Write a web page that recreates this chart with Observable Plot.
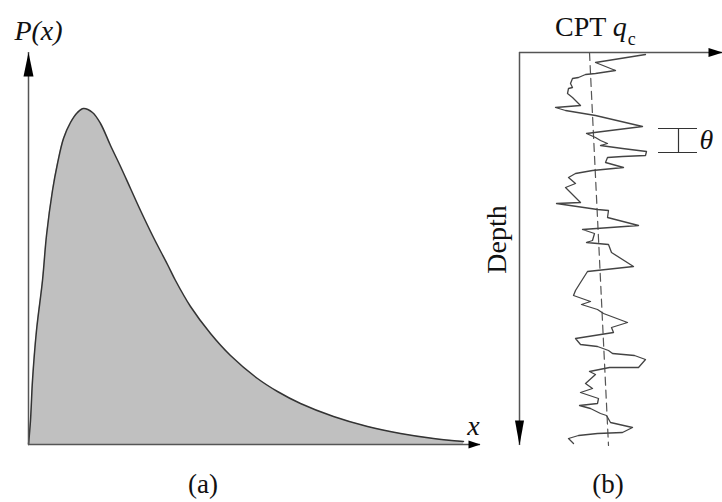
<!DOCTYPE html>
<html><head><meta charset="utf-8">
<script src="https://cdn.jsdelivr.net/npm/d3@7"></script>
<script src="https://cdn.jsdelivr.net/npm/@observablehq/plot@0.6"></script>
<style>
body{margin:0;background:#fff;}
#fig{position:relative;width:722px;height:502px;font-family:"Liberation Serif","Times New Roman",serif;color:#111;overflow:hidden;}
#fig svg{position:absolute;top:0;overflow:visible;background:none;}
.lbl{position:absolute;line-height:1;white-space:nowrap;}
</style></head><body><div id="fig"></div>
<script>
// Panel (a): probability density P(x)
const pdfX = [0, 0.2, 0.4, 0.8, 1.4, 1.8, 2.4, 2.9, 3.5, 4.2, 4.9, 5.5, 6.4, 7.2, 8.2, 9.2, 10.2, 11.2, 12.5, 13.9, 14.7, 16.2, 18.2, 20.2, 22.9, 24.9, 27.2, 30.5, 33.9, 37.2, 40.5, 43.5];
const pdfP = [0, 2.4, 6.4, 11.4, 16.4, 20.9, 25.4, 28.1, 30.6, 32.2, 33.2, 33.6, 33.2, 32.1, 29.9, 27.8, 25.6, 23.4, 20.7, 18.0, 16.4, 13.8, 11.1, 8.9, 6.6, 5.3, 4.1, 2.8, 1.8, 1.1, 0.6, 0.3];

// Panel (b): CPT qc profile with depth
const cptDepth = [0.2, 1.0, 1.8, 2.1, 2.2, 2.5, 2.6, 3.1, 3.5, 3.6, 4.1, 4.5, 5.3, 5.5, 5.8, 6.3, 7.4, 8.1, 8.5, 8.8, 9.1, 9.3, 9.6, 9.9, 10.3, 10.4, 10.5, 11.0, 11.5, 11.8, 12.1, 12.5, 13.1, 13.5, 15.0, 15.1, 15.7, 15.8, 16.5, 17.3, 17.7, 18.1, 18.8, 19.0, 19.2, 20.0, 21.4, 21.9, 23.0, 23.8, 24.3, 24.9, 25.2, 25.7, 26.1, 27.0, 27.5, 28.0, 28.6, 29.2, 29.4, 29.8, 30.1, 30.3, 30.7, 31.5, 31.5, 31.9, 32.2, 33.1, 33.6, 34.0, 34.6, 35.1, 35.3, 35.6, 36.1, 36.3, 37.0, 37.5, 38.0, 38.1, 38.3, 38.6, 39.1];
const cptQc = [12.6, 7.6, 9.6, 7.6, 6.6, 5.9, 5.3, 5.1, 5.3, 4.9, 4.8, 5.3, 6.1, 3.6, 4.6, 7.6, 12.3, 6.7, 7.6, 8.1, 8.8, 8.1, 10.3, 12.7, 12.6, 10.3, 8.8, 8.6, 10.4, 7.3, 5.6, 4.9, 5.6, 4.6, 6.1, 3.7, 7.8, 8.9, 8.8, 11.9, 6.3, 7.5, 7.3, 6.7, 8.9, 9.2, 11.4, 6.8, 6.1, 5.6, 5.4, 7.1, 6.2, 7.8, 8.4, 10.8, 9.2, 9.4, 5.6, 6.1, 7.8, 8.9, 9.3, 11.5, 12.6, 11.9, 9.0, 7.0, 7.6, 6.6, 7.3, 6.1, 7.9, 7.8, 6.0, 7.1, 8.1, 8.7, 9.1, 11.3, 10.3, 7.8, 5.9, 4.9, 5.4];
const trendDepth = [0, 39.3];
const trendQc = [7.0, 8.9];
const thetaBand = [7.6, 10.0];

const pdf = pdfX.map((x, i) => ({x, p: pdfP[i]}));
const cpt = cptDepth.map((d, i) => ({d, q: cptQc[i]}));
const trend = trendDepth.map((d, i) => ({d, q: trendQc[i]}));

const serif = "Liberation Serif, Times New Roman, serif";
const tri = (pts) => ({draw(c){ c.moveTo(pts[0][0], pts[0][1]); c.lineTo(pts[1][0], pts[1][1]); c.lineTo(pts[2][0], pts[2][1]); c.closePath(); }});
const arrowUpA = tri([[0,0],[-5,24],[5,24]]);
const arrowRightA = tri([[0,0],[-12,-4],[-12,4]]);
const arrowRightB = tri([[0,0],[-14,-4.5],[-14,4.5]]);
const arrowDownB = tri([[0,0],[-4.5,-25],[4.5,-25]]);

const axisColor = "#555";

const plotA = Plot.plot({
  width: 490, height: 460,
  marginLeft: 28, marginRight: 10, marginTop: 52, marginBottom: 16,
  x: {domain: [0, 45.2], axis: null},
  y: {domain: [0, 39.2], axis: null},
  marks: [
    Plot.areaY(pdf, {x: "x", y: "p", fill: "#c0c0c0", curve: "catmull-rom"}),
    Plot.line(pdf, {x: "x", y: "p", stroke: "#333", strokeWidth: 1.5, curve: "catmull-rom"}),
    Plot.ruleX([0], {y1: 0, y2: 39.2, stroke: axisColor, strokeWidth: 1.5}),
    Plot.ruleY([0], {x1: 0, x2: 45.2, stroke: axisColor, strokeWidth: 1.5}),
    Plot.dot([{x: 0, p: 39.2}], {x: "x", y: "p", symbol: arrowUpA, fill: "#000", stroke: "none"}),
    Plot.dot([{x: 45.2, p: 0}], {x: "x", y: "p", symbol: arrowRightA, fill: "#000", stroke: "none"}),
    Plot.text([{x: 0, p: 39.2, t: "P(x)"}], {x: "x", y: "p", text: "t", dx: 10, dy: -21, fontSize: 28, fontStyle: "italic", fontFamily: serif, fill: "#111"}),
    Plot.text([{x: 45.2, p: 0, t: "x"}], {x: "x", y: "p", text: "t", dx: -7, dy: -18, fontSize: 28, fontStyle: "italic", fontFamily: serif, fill: "#111"})
  ]
});
plotA.style.left = "0px";

const plotB = Plot.plot({
  width: 242, height: 460,
  marginLeft: 39, marginRight: 0, marginTop: 52, marginBottom: 15,
  x: {domain: [0, 20.3], axis: null},
  y: {domain: [0, 39.3], reverse: true, axis: null},
  marks: [
    Plot.line(trend, {x: "q", y: "d", stroke: "#555", strokeWidth: 1.2, strokeDasharray: "8,5"}),
    Plot.line(cpt, {x: "q", y: "d", stroke: "#444", strokeWidth: 1.3}),
    Plot.ruleX([0], {y1: 0, y2: 39.3, stroke: axisColor, strokeWidth: 1.5}),
    Plot.ruleY([0], {x1: 0, x2: 20.3, stroke: axisColor, strokeWidth: 1.5}),
    Plot.dot([{q: 20.3, d: 0}], {x: "q", y: "d", symbol: arrowRightB, fill: "#000", stroke: "none"}),
    Plot.dot([{q: 0, d: 39.3}], {x: "q", y: "d", symbol: arrowDownB, fill: "#000", stroke: "none"}),
    Plot.ruleY(thetaBand, {x1: 13.9, x2: 17.8, stroke: "#333", strokeWidth: 1.2}),
    Plot.ruleX([15.9], {y1: thetaBand[0], y2: thetaBand[1], stroke: "#333", strokeWidth: 1.2}),
    Plot.text([{q: 17.9, d: 8.8, t: "θ"}], {x: "q", y: "d", text: "t", textAnchor: "start", dx: 1, fontSize: 28, fontStyle: "italic", fontFamily: serif, fill: "#111"}),
    Plot.text([{q: 0, d: 18.7, t: "Depth"}], {x: "q", y: "d", text: "t", rotate: -90, dx: -22, fontSize: 28, fontFamily: serif, fill: "#111"})
  ]
});
plotB.style.left = "480px";

const fig = document.getElementById("fig");
fig.appendChild(plotA);
fig.appendChild(plotB);

const addLabel = (html, left, top, size, center) => {
  const el = document.createElement("div");
  el.className = "lbl";
  el.innerHTML = html;
  el.style.left = left + "px";
  el.style.top = top + "px";
  el.style.fontSize = size + "px";
  if (center) el.style.transform = "translateX(-50%)";
  fig.appendChild(el);
};
addLabel('CPT <span style="font-style:italic">q</span><span style="font-size:18px;position:relative;top:9px;margin-left:1px">c</span>', 555, 13, 28, false);
addLabel('(a)', 203, 471, 27, true);
addLabel('(b)', 608, 471, 27, true);
</script>
</body></html>
